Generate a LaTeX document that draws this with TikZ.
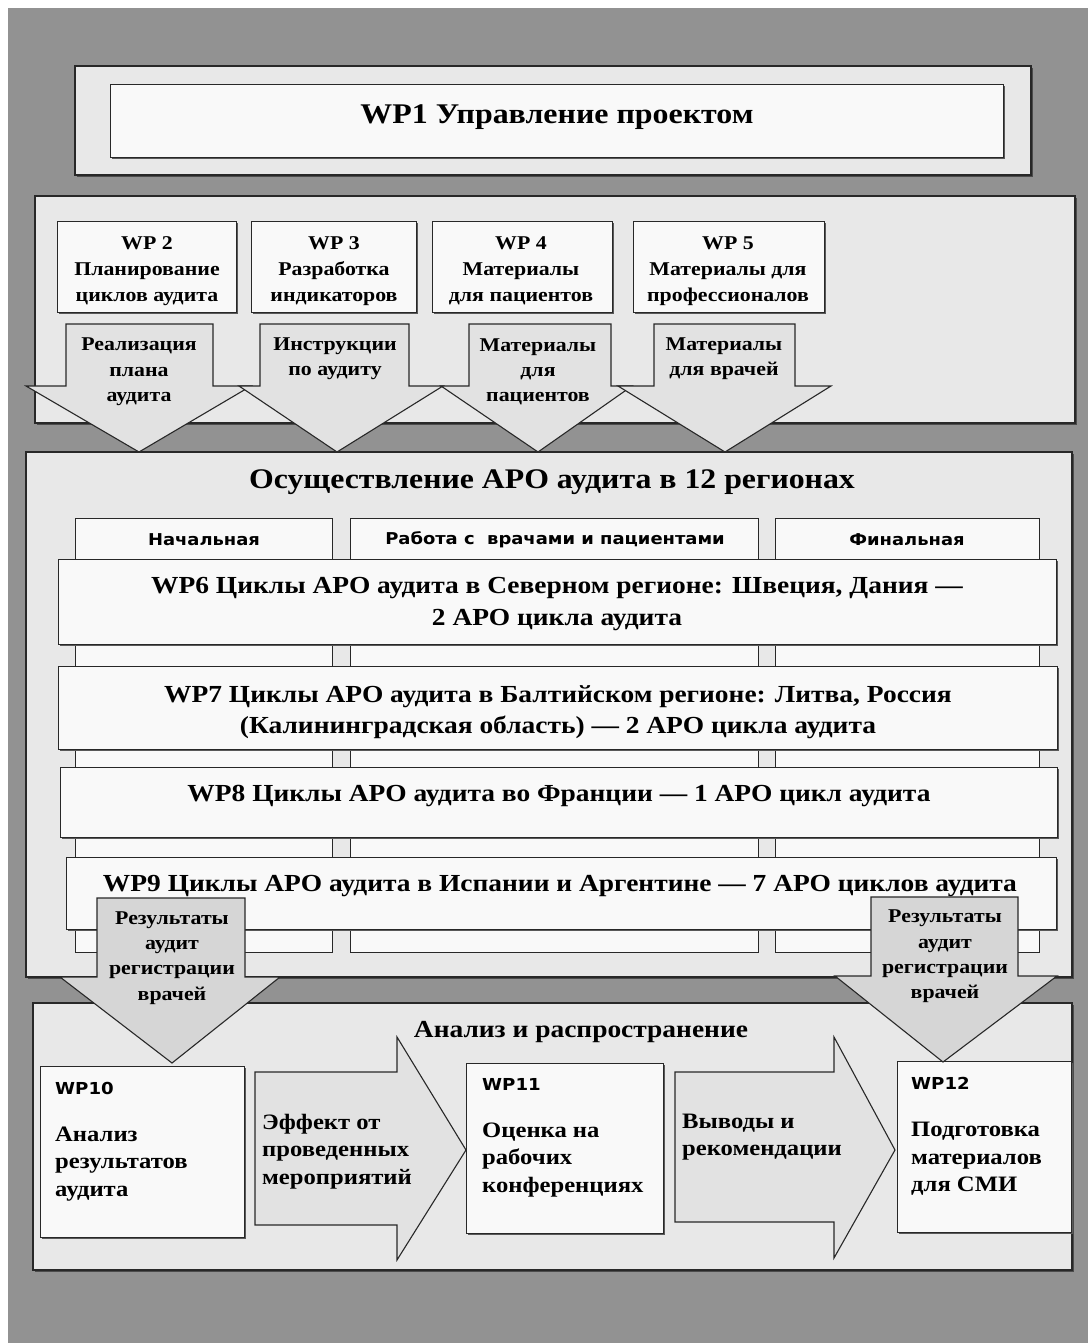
\documentclass[tikz,border=0pt]{standalone}
\usepackage{fontspec}
\setmainfont[FakeStretch=1.12]{Liberation Serif}
\newfontfamily\hdrfont[FakeStretch=1.1]{DejaVu Sans}
\usetikzlibrary{shadows}
\definecolor{bgc}{RGB}{146,146,146}
\definecolor{panelc}{RGB}{232,232,232}
\definecolor{boxc}{RGB}{249,249,249}
\definecolor{arrc}{RGB}{226,226,226}
\definecolor{resc}{RGB}{214,214,214}
\definecolor{linec}{RGB}{40,40,40}
\newcommand\myfs[2]{\fontsize{#1}{#2}\selectfont}
\tikzset{
  panel/.style={fill=panelc,draw=linec,line width=1.1pt,drop shadow={shadow xshift=1.5pt,shadow yshift=-2pt,fill=black!70,opacity=1}},
  wbox/.style={fill=boxc,draw=linec,line width=1.1pt,inner sep=0pt,anchor=north west,drop shadow={shadow xshift=1.5pt,shadow yshift=-1.5pt,fill=black!65,opacity=1}},
  colbox/.style={fill=boxc,draw=linec,line width=1.1pt,anchor=north west,inner sep=0pt},
  blockarr/.style={fill=arrc,draw=linec,line width=1.1pt,line join=miter},
  resarr/.style={fill=resc,draw=linec,line width=1.1pt,line join=miter},
  boxtxt/.style={inner sep=0pt,align=center,font=\bfseries\myfs{19.5}{26}},
  txt/.style={inner sep=0pt,align=center,font=\bfseries\myfs{19.5}{25.3}},
  ltxt/.style={inner sep=0pt,align=left,anchor=west,font=\bfseries\myfs{22}{27.5}},
  hdr/.style={inner sep=0pt,font=\hdrfont\bfseries\myfs{16.3}{22}},
  wplab/.style={inner sep=0pt,anchor=west,font=\hdrfont\bfseries\myfs{16.5}{22}},
  bandtxt/.style={inner sep=0pt,align=center,font=\bfseries\myfs{24.5}{31.5}},
}
\begin{document}
\begin{tikzpicture}[x=1pt,y=-1pt]
\useasboundingbox (0,0) rectangle (1088,1343);
\fill[white] (0,0) rectangle (1088,1343);
\fill[bgc] (8,8) rectangle (1088,1343);

% WP1
\draw[panel] (75,66) rectangle (1031,175);
\node[wbox,minimum width=893pt,minimum height=73pt] (wp1) at (110,84) {};
\node[inner sep=0pt,font=\bfseries\myfs{28.5}{34}] (wp1t) at (557,117) {WP1 Управление проектом};

% Panel 2
\draw[panel] (35,196) rectangle (1075,423);
\node[wbox,minimum width=179pt,minimum height=91pt] (wp2) at (57,221) {};
\node[wbox,minimum width=165pt,minimum height=91pt] (wp3) at (251,221) {};
\node[wbox,minimum width=180pt,minimum height=91pt] (wp4) at (432,221) {};
\node[wbox,minimum width=191pt,minimum height=91pt] (wp5) at (633,221) {};
\node[boxtxt] (wp2t) at (147,271) {WP 2\\Планирование\\циклов аудита};
\node[boxtxt] (wp3t) at (334,271) {WP 3\\Разработка\\индикаторов};
\node[boxtxt] (wp4t) at (521,271) {WP 4\\Материалы\\для пациентов};
\node[boxtxt] (wp5t) at (728,271) {WP 5\\Материалы для\\профессионалов};

% Panel 3
\draw[panel] (26,452) rectangle (1072,977);
\node[inner sep=0pt,font=\bfseries\myfs{28.4}{32}] (t3) at (552,482) {Осуществление АРО аудита в 12 регионах};
\node[colbox,minimum width=257pt,minimum height=434pt] (c1) at (75,518) {};
\node[colbox,minimum width=408pt,minimum height=434pt] (c2) at (350,518) {};
\node[colbox,minimum width=264pt,minimum height=434pt] (c3) at (775,518) {};
\node[hdr] (h1) at (204,540) {Начальная};
\node[hdr] (h2) at (555,540) {Работа с\ \ врачами и пациентами};
\node[hdr] (h3) at (907,540) {Финальная};
\node[wbox,minimum width=998pt,minimum height=85pt] (wp6) at (58,559) {};
\node[wbox,minimum width=999pt,minimum height=83pt] (wp7) at (58,666) {};
\node[wbox,minimum width=997pt,minimum height=70pt] (wp8) at (60,767) {};
\node[wbox,minimum width=990pt,minimum height=72pt] (wp9) at (66,857) {};
\node[bandtxt] (wp6t) at (557,604) {WP6 Циклы АРО аудита в Северном регионе: Швеция, Дания —\\2 АРО цикла аудита};
\node[bandtxt] (wp7t) at (558,712) {WP7 Циклы АРО аудита в Балтийском регионе: Литва, Россия\\(Калининградская область) — 2 АРО цикла аудита};
\node[bandtxt] (wp8t) at (559,796) {WP8 Циклы АРО аудита во Франции — 1 АРО цикл аудита};
\node[bandtxt] (wp9t) at (560,886) {WP9 Циклы АРО аудита в Испании и Аргентине — 7 АРО циклов аудита};

% Panel 4
\draw[panel] (33,1003) rectangle (1072,1270);
\node[inner sep=0pt,font=\bfseries\myfs{24.5}{28}] (t4) at (581,1032) {Анализ и распространение};
\draw[blockarr] (255,1072) -- (397,1072) -- (397,1037) -- (466,1150) -- (397,1260) -- (397,1225) -- (255,1225) -- cycle;
\draw[blockarr] (675,1072) -- (834,1072) -- (834,1037) -- (895,1150) -- (834,1258) -- (834,1222) -- (675,1222) -- cycle;
\node[wbox,minimum width=204pt,minimum height=171pt] (wp10) at (40,1066) {};
\node[wbox,minimum width=197pt,minimum height=170pt] (wp11) at (466,1063) {};
\node[wbox,minimum width=174pt,minimum height=171pt] (wp12) at (897,1061) {};
\node[wplab] (l10) at (55,1088) {WP10};
\node[wplab] (l11) at (482,1084) {WP11};
\node[wplab] (l12) at (911,1083) {WP12};
\node[ltxt] (x10) at (55,1164) {Анализ\\результатов\\аудита};
\node[ltxt] (xa) at (262,1151.5) {Эффект от\\проведенных\\мероприятий};
\node[ltxt] (x11) at (482,1160) {Оценка на\\рабочих\\конференциях};
\node[ltxt] (xb) at (682,1137) {Выводы и\\рекомендации};
\node[ltxt] (x12) at (911,1159) {Подготовка\\материалов\\для СМИ};

% Panel 2 arrows
\draw[blockarr] (66,324) -- (213,324) -- (213,386) -- (251,386) -- (139,452) -- (26,386) -- (66,386) -- cycle;
\draw[blockarr] (260,324) -- (409,324) -- (409,386) -- (443,386) -- (337,452) -- (239,386) -- (260,386) -- cycle;
\draw[blockarr] (469,324) -- (611,324) -- (611,386) -- (632,386) -- (538,452) -- (441,386) -- (469,386) -- cycle;
\draw[blockarr] (654,324) -- (795,324) -- (795,386) -- (831,386) -- (725,452) -- (618,386) -- (654,386) -- cycle;
\node[txt] (a1) at (139,372) {Реализация\\плана\\аудита};
\node[txt] (a2) at (335,359) {Инструкции\\по аудиту};
\node[txt] (a3) at (538,372) {Материалы\\для\\пациентов};
\node[txt] (a4) at (724,358.5) {Материалы\\для врачей};

% Result arrows
\draw[resarr] (97,898) -- (245,898) -- (245,977) -- (280,977) -- (172,1063) -- (60,977) -- (97,977) -- cycle;
\draw[resarr] (871,897) -- (1018,897) -- (1018,976) -- (1057,976) -- (943,1062) -- (835,976) -- (871,976) -- cycle;
\node[txt] (r1) at (172,958) {Результаты\\аудит\\регистрации\\врачей};
\node[txt] (r2) at (945,956.5) {Результаты\\аудит\\регистрации\\врачей};
\end{tikzpicture}
\end{document}
